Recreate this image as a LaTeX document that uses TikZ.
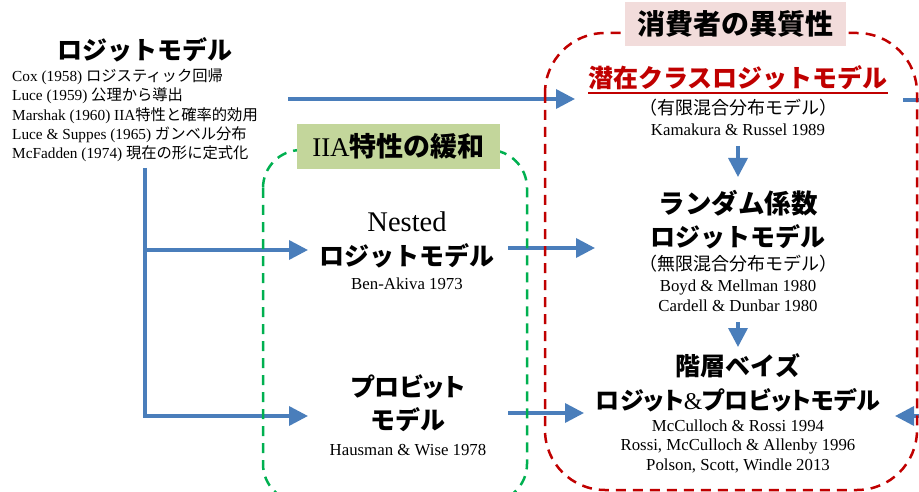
\documentclass[tikz,border=0pt]{standalone}
\usepackage{fontspec}
\setmainfont{Liberation Serif}
\newfontfamily\jp{Noto Sans CJK JP}
\newfontfamily\jpp[RawFeature=+palt]{Noto Sans CJK JP}
\usetikzlibrary{arrows.meta}
\definecolor{arrblue}{HTML}{4A7EBB}
\definecolor{dred}{HTML}{C00000}
\definecolor{dgreen}{HTML}{00B050}
\definecolor{pinkfill}{HTML}{F2DCDB}
\definecolor{greenfill}{HTML}{C3D69B}
\tikzset{
  flow/.style={draw=arrblue, line width=3.5pt, -{Triangle[length=19pt,width=19pt]}},
  flowline/.style={draw=arrblue, line width=3.5pt},
  grp/.style={line width=2.5pt, dash pattern=on 10pt off 7pt},
  title/.style={inner sep=0pt, font=\jp\bfseries\fontsize{25}{25}\selectfont},
  ptitle/.style={inner sep=0pt, font=\jpp\bfseries\fontsize{25}{25}\selectfont},
  sub/.style={inner sep=0pt, font=\jp\fontsize{18}{18}\selectfont},
  refs/.style={inner sep=0pt, font=\fontsize{16.8}{16.8}\selectfont},
  lrefs/.style={inner sep=0pt, anchor=west, font=\fontsize{15.3}{15.3}\selectfont},
}
\begin{document}
\begin{tikzpicture}[x=1pt,y=-1pt]
\useasboundingbox (0,0) rectangle (919,492);
\clip (0,0) rectangle (919,492);
% ---------- left: logit
\node[title] (logit) at (145,50) {ロジットモデル};
\node[lrefs] (r1) at (12,77) {Cox (1958) {\jp ロジスティック回帰}};
\node[lrefs] (r2) at (12,96) {Luce (1959) {\jp 公理から導出}};
\node[lrefs] (r3) at (12,116) {Marshak (1960) IIA{\jp 特性と確率的効用}};
\node[lrefs] (r4) at (12,135) {Luce \& Suppes (1965) {\jp ガンベル分布}};
\node[lrefs] (r5) at (12,154) {McFadden (1974) {\jp 現在の形に定式化}};
% ---------- middle
\node[inner sep=0pt, font=\fontsize{28.5}{28.5}\selectfont] (nested) at (407,222) {Nested};
\node[title] (nestedb) at (407,256) {ロジットモデル};
\node[refs] (nestedr) at (407,284) {Ben-Akiva 1973};
\node[ptitle] (probit) at (408,387) {プロビット};
\node[title] (probitb) at (408,420) {モデル};
\node[refs] (probitr) at (408,450) {Hausman \& Wise 1978};
% ---------- right
\node[title, text=dred] (lat) at (738,78) {潜在クラスロジットモデル};
\node[sub] (latb) at (738,108) {（有限混合分布モデル）};
\node[refs] (latr) at (738,130) {Kamakura \& Russel 1989};
\node[title, font=\jp\bfseries\fontsize{26.5}{26.5}\selectfont] (rnd) at (738,203) {ランダム係数};
\node[title] (rndb) at (738,237) {ロジットモデル};
\node[sub] (rndc) at (738,264) {（無限混合分布モデル）};
\node[refs] (rndr1) at (738,287) {Boyd \& Mellman 1980};
\node[refs] (rndr2) at (738,306) {Cardell \& Dunbar 1980};
\node[title] (hb) at (738,366) {階層ベイズ};
\node[ptitle, font=\jpp\bfseries\fontsize{24}{24}\selectfont] (hbb) at (738,400) {ロジット{\rmfamily\mdseries\&}プロビットモデル};
\node[refs] (hbr1) at (738,426) {McCulloch \& Rossi 1994};
\node[refs] (hbr2) at (738,446) {Rossi, McCulloch \& Allenby 1996};
\node[refs] (hbr3) at (738,466) {Polson, Scott, Windle 2013};
\draw[dred, line width=1.8pt] ([yshift=-5pt]lat.base west) -- ([yshift=-5pt]lat.base east);
% ---------- connector coordinates
\coordinate (s0) at (145,168);
\coordinate (s1) at (145,250);
\coordinate (s2) at (145,416);
\coordinate (t1) at (308,250);
\coordinate (t2) at (308,416);
\coordinate (a0) at (288,99);
\coordinate (a1) at (575,99);
\coordinate (o0) at (903,100);
\coordinate (o1) at (925,100);
\coordinate (n0) at (508,248);
\coordinate (n1) at (595,248);
\coordinate (p0) at (508,413);
\coordinate (p1) at (584,413);
\coordinate (i0) at (925,416);
\coordinate (i1) at (895,416);
\coordinate (d0) at (738,146);
\coordinate (d1) at (738,177);
\coordinate (e0) at (738,322);
\coordinate (e1) at (738,347);
% ---------- arrows
\draw[flow] (s0) |- (t2);
\draw[flow] (s1) -- (t1);
\draw[flow] (a0) -- (a1);
\draw[flowline] (o0) -- (o1);
\draw[flow] (n0) -- (n1);
\draw[flow] (p0) -- (p1);
\draw[flow] (i0) -- (i1);
\draw[flow] (d0) -- (d1);
\draw[flow] (e0) -- (e1);
% ---------- group boxes
\draw[grp, dgreen, rounded corners=38pt] (263,150) rectangle (527,502);
\draw[grp, dred, rounded corners=60pt] (545,33) rectangle (917,490);
\node[fill=pinkfill, minimum width=221pt, minimum height=44pt, inner sep=0pt,
      font=\jp\bfseries\fontsize{28}{28}\selectfont] (het) at (735.5,24) {消費者の異質性};
\node[fill=greenfill, minimum width=203pt, minimum height=45pt, inner sep=0pt,
      font=\jp\bfseries\fontsize{27}{27}\selectfont] (iia) at (398.5,146.5) {{\rmfamily\mdseries IIA}特性の緩和};
\end{tikzpicture}
\end{document}
